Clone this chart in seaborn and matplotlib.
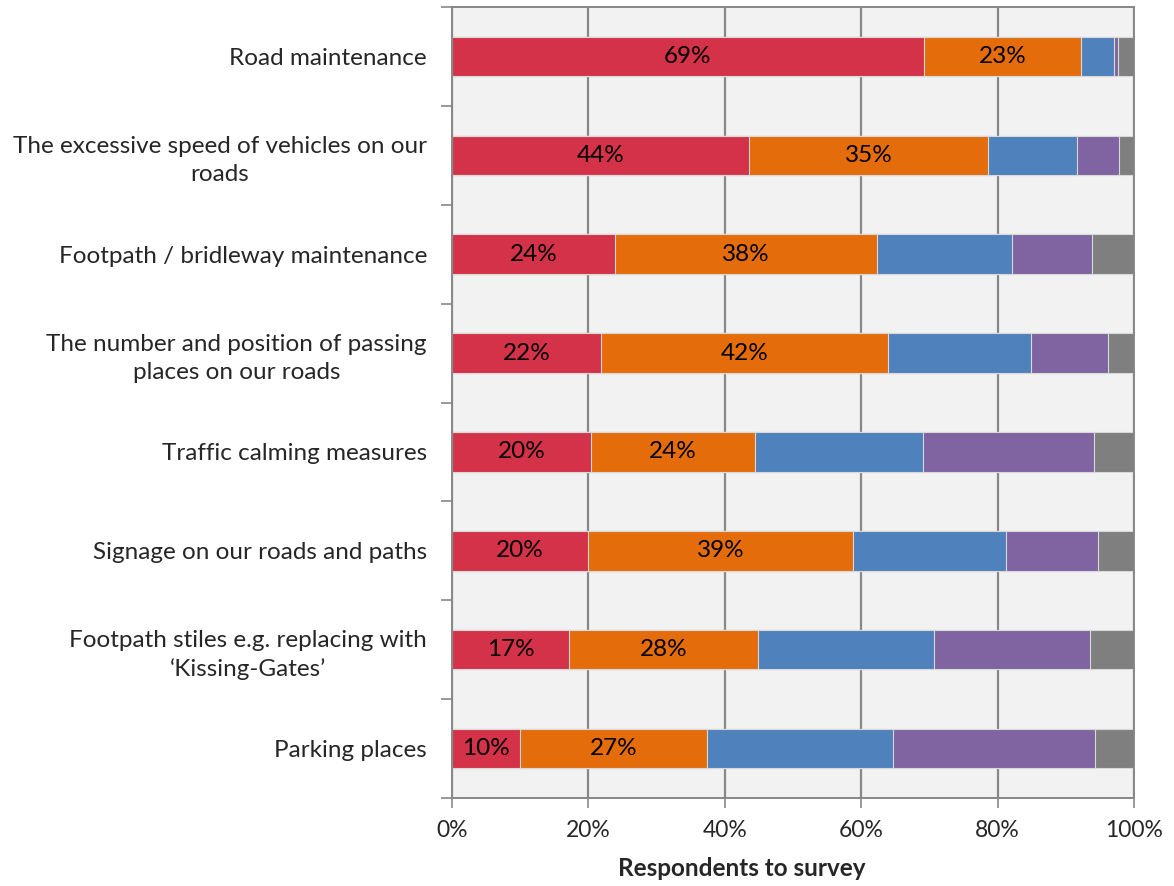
import numpy as np
import pandas as pd
import matplotlib.pyplot as plt
import seaborn as sns
from matplotlib.ticker import FixedLocator, PercentFormatter

categories = [
    "Road maintenance",
    "The excessive speed of vehicles on our\nroads",
    "Footpath / bridleway maintenance",
    "The number and position of passing\nplaces on our roads",
    "Traffic calming measures",
    "Signage on our roads and paths",
    "Footpath stiles e.g. replacing with\n\u2018Kissing-Gates\u2019",
    "Parking places",
]

# share of respondents (%) per answer level
level_1 = [69.2, 43.6, 23.9, 21.8, 20.4, 19.9, 17.2, 10.0]
level_2 = [23.0, 35.0, 38.4, 42.1, 24.0, 38.9, 27.6, 27.4]
level_3 = [4.9, 13.0, 19.8, 21.0, 24.6, 22.4, 25.9, 27.3]
level_4 = [0.5, 6.2, 11.7, 11.3, 25.1, 13.5, 22.9, 29.6]
level_5 = [2.4, 2.2, 6.2, 3.8, 5.9, 5.3, 6.4, 5.7]

levels = [level_1, level_2, level_3, level_4, level_5]
colors = ["#D33248", "#E46C0A", "#4F81BD", "#8064A2", "#7F7F7F"]

df = pd.DataFrame({"category": categories})
cum = np.zeros(len(categories))
for i, lv in enumerate(levels):
    cum = cum + np.array(lv)
    df[f"cum{i}"] = cum

sns.set_style("white")
plt.rcParams["font.family"] = ["Lato", "DejaVu Sans"]

fig = plt.figure(figsize=(11.74, 8.86), dpi=100)
ax = fig.add_axes([0.385, 0.0993, 0.581, 0.8928])
ax.set_facecolor("#F2F2F2")

# stacked look: draw cumulative totals from the largest down
for i in reversed(range(len(levels))):
    sns.barplot(
        data=df, x=f"cum{i}", y="category", order=categories,
        color=colors[i], saturation=1, width=0.4,
        edgecolor="#D9D9D9", linewidth=0.8, ax=ax,
    )

# value labels for the first two levels
for j in range(len(categories)):
    ax.text(level_1[j] / 2, j, f"{level_1[j]:.0f}%", ha="center", va="center",
            fontsize=17.5, color="black")
    ax.text(level_1[j] + level_2[j] / 2, j, f"{level_2[j]:.0f}%", ha="center",
            va="center", fontsize=17.5, color="black")

grid_c = "#878787"
ax.set_xlim(0, 100)
ax.set_ylim(len(categories) - 0.5, -0.5)
ax.set_xticks([0, 20, 40, 60, 80, 100])
ax.xaxis.set_major_formatter(PercentFormatter(decimals=0))
ax.grid(axis="x", color=grid_c, linewidth=1.6)
ax.set_axisbelow(True)

ax.yaxis.set_minor_locator(FixedLocator(np.arange(-0.5, len(categories), 1)))
ax.tick_params(axis="both", which="both", left=True, bottom=True)
ax.tick_params(axis="y", which="major", length=0, pad=18, labelsize=17.5)
ax.tick_params(axis="y", which="minor", length=8, width=1.2, color=grid_c)
ax.tick_params(axis="x", which="major", length=7, width=1.2, color=grid_c,
               labelsize=16.5, pad=9)
for lab in ax.get_yticklabels():
    lab.set_multialignment("center")
    lab.set_linespacing(1.4)

for s in ax.spines.values():
    s.set_color(grid_c)
    s.set_linewidth(1.4)

ax.set_ylabel("")
ax.set_xlabel("Respondents to survey", fontsize=17.5, fontweight="bold")
ax.xaxis.set_label_coords(0.425, -0.075)

fig.savefig("out.png", dpi=100)
